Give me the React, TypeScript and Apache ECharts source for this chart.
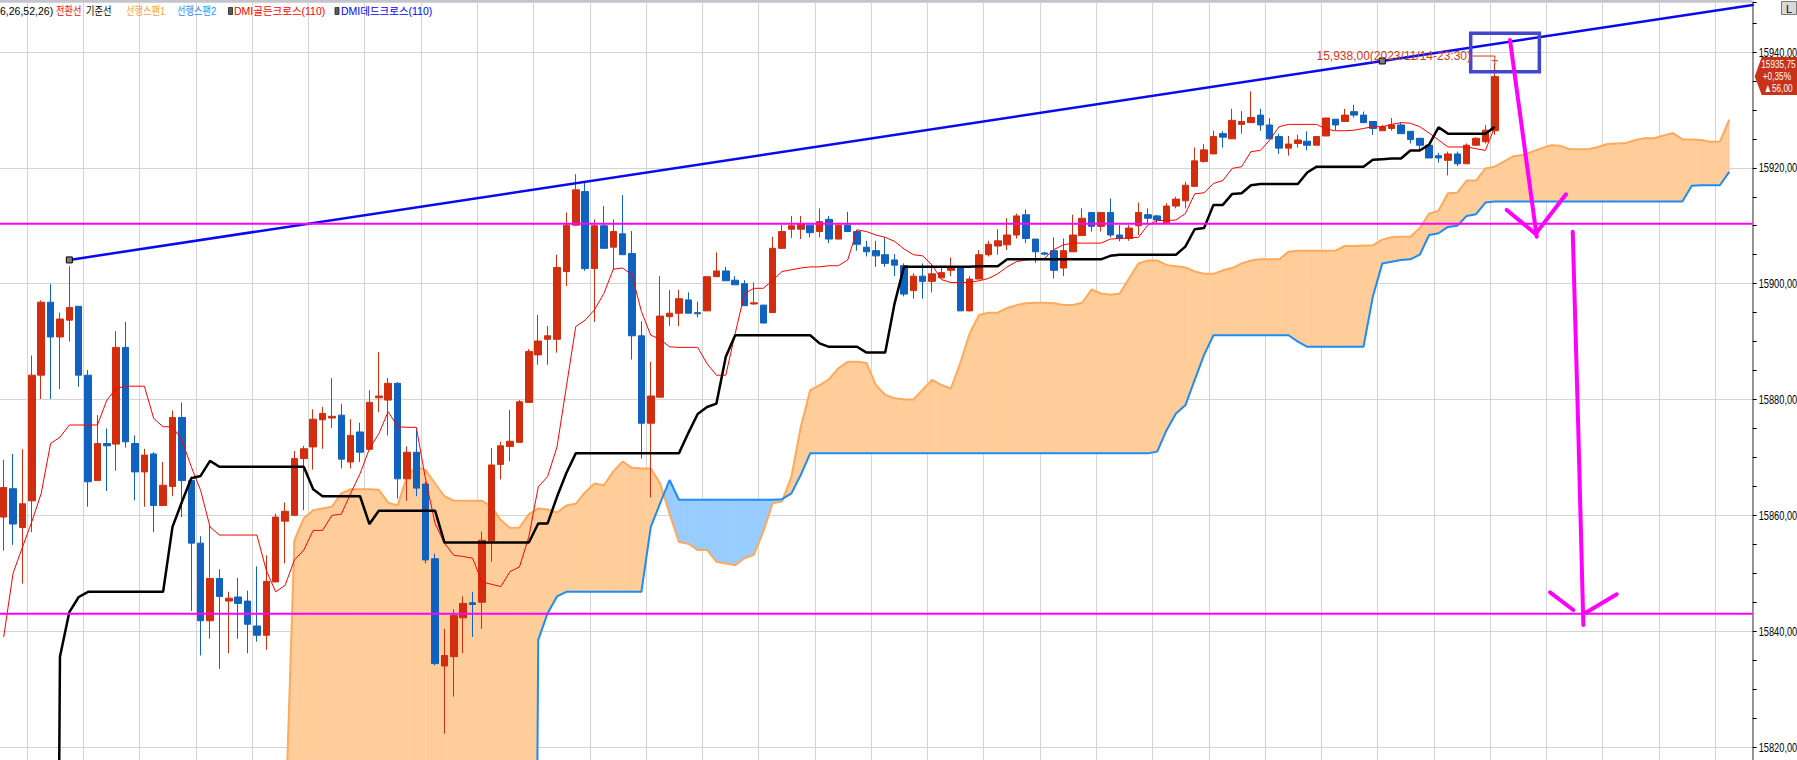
import React, { useEffect, useRef } from 'react';
import * as echarts from 'echarts';

// ---------- data ----------
// candles: [open, close, low, high]
const candles: number[][] = [
  [15859.7, 15864.8, 15853.9, 15869.6], [15864.6, 15858.5, 15854.9, 15870.6], [15857.9, 15862.0, 15848.2, 15871.4],
  [15862.5, 15884.2, 15857.1, 15887.6], [15884.2, 15896.8, 15880.1, 15897.1], [15896.8, 15890.8, 15880.1, 15899.9],
  [15890.8, 15893.9, 15881.8, 15895.0], [15893.7, 15895.9, 15890.0, 15903.0], [15896.1, 15884.2, 15882.2, 15896.1],
  [15884.2, 15865.8, 15861.5, 15885.1], [15866.0, 15872.4, 15866.0, 15877.3], [15872.4, 15872.0, 15864.2, 15875.0],
  [15872.3, 15889.0, 15867.7, 15891.8], [15889.0, 15872.7, 15871.7, 15893.4], [15872.4, 15867.5, 15862.6, 15873.8],
  [15867.5, 15870.4, 15861.5, 15871.5], [15870.6, 15861.7, 15857.1, 15870.9], [15861.7, 15865.2, 15861.7, 15869.2],
  [15865.0, 15876.9, 15863.3, 15878.1], [15876.9, 15866.0, 15859.7, 15879.5], [15866.0, 15855.2, 15843.5, 15866.7],
  [15855.2, 15841.8, 15835.8, 15856.4], [15841.8, 15849.1, 15838.7, 15858.3], [15849.1, 15846.0, 15833.5, 15850.7],
  [15845.2, 15845.7, 15836.2, 15846.8], [15845.9, 15844.8, 15838.7, 15849.2], [15845.2, 15841.2, 15836.2, 15847.0],
  [15840.9, 15839.3, 15838.2, 15851.2], [15839.3, 15848.6, 15836.8, 15853.1], [15848.5, 15859.7, 15848.5, 15860.3],
  [15859.0, 15860.7, 15851.7, 15862.2], [15860.0, 15869.8, 15860.0, 15871.1], [15869.8, 15871.5, 15860.9, 15872.0],
  [15871.8, 15876.6, 15867.9, 15878.3], [15876.5, 15877.6, 15871.5, 15878.7], [15876.8, 15877.1, 15875.1, 15883.7],
  [15877.3, 15869.7, 15868.1, 15879.2], [15869.2, 15873.8, 15868.1, 15876.6], [15874.4, 15870.9, 15869.2, 15876.0],
  [15871.4, 15879.5, 15871.4, 15881.6], [15880.3, 15880.6, 15877.8, 15888.2], [15879.9, 15882.8, 15873.8, 15883.7],
  [15882.8, 15866.3, 15862.9, 15883.0], [15866.3, 15870.9, 15862.5, 15871.9], [15870.9, 15864.7, 15863.3, 15874.8],
  [15865.4, 15852.3, 15851.7, 15865.8], [15852.5, 15834.4, 15834.1, 15853.4], [15834.0, 15835.8, 15822.3, 15840.4],
  [15835.6, 15842.7, 15828.7, 15843.8], [15842.3, 15844.8, 15836.2, 15846.0], [15844.9, 15844.6, 15839.0, 15846.8],
  [15845.0, 15855.7, 15840.4, 15857.2], [15855.6, 15868.7, 15852.0, 15871.6], [15868.8, 15872.0, 15866.2, 15872.7],
  [15871.9, 15872.8, 15869.3, 15878.2], [15872.6, 15879.6, 15872.6, 15879.9], [15879.5, 15888.3, 15879.5, 15888.7],
  [15887.7, 15890.1, 15886.0, 15894.6], [15890.4, 15891.0, 15886.0, 15892.7], [15890.4, 15902.8, 15888.1, 15905.0],
  [15902.1, 15910.1, 15899.6, 15912.3], [15910.1, 15916.2, 15910.1, 15918.9], [15915.9, 15902.6, 15902.2, 15917.4],
  [15902.6, 15910.0, 15893.4, 15911.1], [15910.0, 15906.1, 15906.1, 15913.4], [15906.3, 15909.0, 15902.4, 15911.1],
  [15908.6, 15905.0, 15905.0, 15915.3], [15905.2, 15891.0, 15886.9, 15909.1], [15891.0, 15875.9, 15869.8, 15893.5],
  [15875.9, 15880.6, 15863.1, 15886.5], [15880.4, 15894.4, 15880.4, 15901.3], [15894.3, 15894.9, 15892.7, 15898.9],
  [15894.9, 15897.4, 15892.7, 15898.9], [15897.2, 15894.9, 15894.9, 15898.5], [15895.0, 15894.8, 15894.2, 15896.9],
  [15895.3, 15901.2, 15895.3, 15901.2], [15901.2, 15902.2, 15901.2, 15905.4], [15902.2, 15900.5, 15900.5, 15902.9],
  [15900.6, 15899.8, 15899.8, 15901.3], [15900.0, 15896.2, 15896.2, 15900.6], [15896.5, 15896.7, 15896.3, 15900.2],
  [15896.3, 15893.2, 15893.2, 15896.3], [15895.0, 15906.1, 15895.0, 15908.1], [15906.1, 15909.0, 15906.1, 15910.1],
  [15909.4, 15910.0, 15907.9, 15911.7], [15909.4, 15910.3, 15907.7, 15911.7], [15910.1, 15908.8, 15908.0, 15910.1],
  [15909.0, 15910.7, 15908.0, 15913.0], [15911.1, 15907.7, 15907.0, 15911.7], [15907.7, 15910.1, 15907.7, 15910.1],
  [15910.1, 15909.0, 15909.0, 15912.4], [15909.0, 15906.8, 15905.7, 15909.3], [15906.3, 15905.5, 15904.7, 15907.4],
  [15905.7, 15904.8, 15902.9, 15907.4], [15905.0, 15903.5, 15902.9, 15908.0], [15904.1, 15903.2, 15901.3, 15905.1],
  [15903.1, 15898.2, 15897.8, 15903.5], [15898.8, 15901.3, 15897.4, 15901.8], [15901.3, 15900.4, 15897.4, 15903.5],
  [15900.4, 15901.7, 15898.5, 15903.2], [15901.0, 15901.9, 15901.0, 15902.9], [15902.3, 15902.9, 15901.3, 15904.5],
  [15902.9, 15895.3, 15895.3, 15902.9], [15895.3, 15900.8, 15895.2, 15901.3], [15900.8, 15905.0, 15900.8, 15905.8],
  [15905.0, 15906.8, 15904.7, 15907.4], [15906.5, 15907.4, 15905.0, 15909.4], [15906.7, 15908.4, 15905.8, 15911.3],
  [15908.4, 15911.7, 15907.8, 15912.1], [15911.9, 15907.8, 15907.0, 15912.8], [15907.7, 15905.5, 15903.6, 15907.7],
  [15905.3, 15905.1, 15904.9, 15905.5], [15905.7, 15902.3, 15900.9, 15908.0], [15902.7, 15905.7, 15901.3, 15907.8],
  [15905.5, 15908.4, 15905.5, 15911.9], [15908.3, 15911.3, 15908.3, 15913.0], [15912.3, 15909.9, 15909.0, 15912.3],
  [15909.9, 15912.3, 15909.0, 15912.3], [15912.3, 15908.4, 15908.0, 15914.7], [15908.4, 15907.8, 15907.3, 15910.1],
  [15907.8, 15909.6, 15907.4, 15910.1], [15910.0, 15912.3, 15908.4, 15914.0], [15911.9, 15911.3, 15910.4, 15913.0],
  [15911.7, 15911.0, 15910.4, 15911.9], [15910.5, 15913.4, 15910.5, 15913.9], [15913.4, 15914.6, 15913.0, 15915.0],
  [15914.3, 15917.0, 15913.0, 15917.6], [15916.8, 15921.2, 15916.8, 15923.5], [15921.1, 15923.1, 15920.9, 15924.1],
  [15922.4, 15925.4, 15922.4, 15926.4], [15925.9, 15925.3, 15923.5, 15926.3], [15925.0, 15928.2, 15925.0, 15930.2],
  [15927.5, 15928.0, 15925.9, 15929.8], [15927.8, 15928.7, 15927.8, 15933.2], [15929.1, 15927.4, 15926.4, 15930.2],
  [15927.4, 15925.0, 15925.0, 15928.6], [15925.4, 15923.4, 15922.4, 15925.9], [15923.4, 15924.1, 15922.1, 15925.5],
  [15924.2, 15924.8, 15923.5, 15925.7], [15924.6, 15923.9, 15923.0, 15926.3], [15923.9, 15925.4, 15923.9, 15925.5],
  [15925.5, 15928.6, 15925.5, 15928.6], [15928.4, 15927.4, 15926.5, 15928.4], [15928.0, 15929.1, 15928.0, 15930.2],
  [15929.7, 15929.1, 15928.7, 15930.9], [15929.1, 15927.8, 15927.8, 15929.7], [15928.0, 15926.8, 15925.7, 15928.0],
  [15926.4, 15927.1, 15926.4, 15927.4], [15926.8, 15927.4, 15926.4, 15928.6], [15927.4, 15925.9, 15925.9, 15927.8],
  [15926.3, 15924.9, 15924.2, 15926.3], [15925.1, 15923.9, 15923.1, 15925.1], [15923.9, 15921.7, 15921.7, 15923.9],
  [15922.1, 15921.7, 15920.9, 15922.6], [15921.3, 15922.4, 15918.7, 15922.8], [15922.4, 15920.7, 15920.3, 15922.8],
  [15920.7, 15923.9, 15920.7, 15924.2], [15923.9, 15925.1, 15923.9, 15925.3], [15924.5, 15926.5, 15924.2, 15927.4],
  [15926.4, 15935.75, 15925.7, 15938.0],
];

// 전환선 (conversion line)
const tenkan: number[] = [
  15839.0, 15850.0, 15854.5, 15858.9, 15863.8, 15872.4, 15873.5, 15875.6, 15875.6, 15875.6,
  15875.6, 15879.9, 15881.9, 15882.3, 15882.3, 15882.3, 15876.7, 15875.3, 15875.3, 15873.0,
  15868.4, 15864.3, 15858.0, 15856.6, 15856.6, 15856.6, 15856.6, 15856.6, 15850.5, 15846.8,
  15847.9, 15852.3, 15854.0, 15857.4, 15857.4, 15860.0, 15860.2, 15863.8, 15867.2, 15871.5,
  15874.1, 15877.9, 15875.3, 15875.2, 15875.2, 15866.1, 15858.6, 15855.2, 15853.1, 15852.9,
  15852.6, 15848.5, 15848.1, 15847.7, 15850.3, 15851.1, 15856.3, 15864.9, 15866.7, 15871.8,
  15882.2, 15892.6, 15893.7, 15895.5, 15898.3, 15902.5, 15902.7, 15901.5, 15895.2, 15891.1,
  15890.4, 15889.1, 15889.0, 15889.0, 15889.0, 15886.2, 15884.2, 15884.2, 15891.4, 15898.3,
  15899.2, 15899.2, 15900.6, 15902.1, 15902.4, 15902.7, 15902.9, 15902.9, 15903.1, 15903.1,
  15904.1, 15909.3, 15909.0, 15908.4, 15908.0, 15907.3, 15906.0, 15905.0, 15904.8, 15903.2,
  15900.7, 15900.2, 15900.2, 15900.2, 15900.5, 15900.9, 15901.7, 15902.9, 15903.8, 15904.1,
  15904.2, 15904.4, 15905.9, 15906.7, 15907.0, 15907.0, 15907.0, 15907.0, 15907.7, 15907.8,
  15907.9, 15908.0, 15910.1, 15910.9, 15910.9, 15911.0, 15912.1, 15915.5, 15915.7, 15917.3,
  15917.8, 15919.9, 15920.2, 15922.8, 15923.0, 15924.8, 15927.1, 15927.5, 15927.5, 15927.5,
  15927.5, 15926.7, 15926.4, 15926.4, 15926.5, 15926.8, 15927.1, 15927.1, 15927.5, 15927.8,
  15927.7, 15927.1, 15926.0, 15924.8, 15923.6, 15923.6, 15923.6, 15923.3, 15923.0, 15927.1,
];

// 기준선 (base line)
const kijun: number[] = [
  15600, 15600, 15600, 15600, 15600, 15600, 15835.6, 15843.3, 15845.9, 15846.8,
  15846.8, 15846.8, 15846.8, 15846.8, 15846.8, 15846.8, 15846.8, 15846.8, 15858.0, 15862.3,
  15866.4, 15866.8, 15869.4, 15868.4, 15868.4, 15868.4, 15868.4, 15868.4, 15868.4, 15868.4,
  15868.4, 15868.4, 15868.4, 15864.5, 15863.3, 15863.3, 15863.3, 15863.3, 15863.3, 15858.5,
  15860.8, 15860.8, 15860.8, 15860.8, 15860.8, 15860.8, 15860.8, 15855.3, 15855.3, 15855.3,
  15855.3, 15855.3, 15855.3, 15855.3, 15855.3, 15855.3, 15855.3, 15858.6, 15858.6, 15863.2,
  15867.3, 15870.7, 15870.7, 15870.7, 15870.7, 15870.7, 15870.7, 15870.7, 15870.7, 15870.7,
  15870.7, 15870.7, 15870.7, 15874.2, 15877.5, 15878.7, 15879.3, 15887.4, 15891.1, 15891.1,
  15891.1, 15891.1, 15891.1, 15891.1, 15891.1, 15891.1, 15891.1, 15889.7, 15889.1, 15889.1,
  15889.1, 15889.1, 15888.1, 15888.1, 15888.1, 15896.6, 15902.9, 15902.9, 15902.9, 15902.9,
  15902.9, 15902.9, 15902.9, 15902.9, 15903.0, 15903.0, 15903.0, 15904.2, 15904.2, 15904.2,
  15904.2, 15904.2, 15904.2, 15904.2, 15904.2, 15904.2, 15904.2, 15904.2, 15904.8, 15905.0,
  15905.0, 15905.0, 15905.0, 15905.0, 15905.0, 15905.0, 15906.4, 15909.4, 15909.6, 15913.6,
  15913.6, 15915.5, 15915.6, 15917.0, 15917.2, 15917.2, 15917.2, 15917.2, 15917.2, 15919.2,
  15920.2, 15920.2, 15920.2, 15920.2, 15920.2, 15920.2, 15921.4, 15921.5, 15921.6, 15921.6,
  15923.0, 15923.0, 15924.0, 15927.0, 15925.9, 15925.9, 15925.9, 15925.9, 15925.9, 15927.1,
];

// 선행스팬1 (leading span 1), already shifted forward
const span1: number[] = [
  15600, 15600, 15600, 15600, 15600, 15600, 15600, 15600, 15600, 15600,
  15600, 15600, 15600, 15600, 15600, 15600, 15600, 15600, 15600, 15600,
  15600, 15600, 15600, 15600, 15600, 15600, 15600, 15600, 15600, 15600,
  15805.0, 15855.7, 15859.5, 15860.9, 15861.2, 15861.5, 15863.8, 15864.5, 15864.5, 15864.5,
  15864.4, 15862.2, 15861.7, 15866.7, 15868.4, 15867.8, 15865.5, 15863.3, 15862.5, 15862.5,
  15862.5, 15862.5, 15861.5, 15859.2, 15857.8, 15857.9, 15860.2, 15861.2, 15861.0, 15860.5,
  15861.7, 15862.0, 15864.0, 15865.5, 15865.2, 15867.6, 15869.3, 15868.2, 15868.1, 15868.1,
  15865.5, 15860.3, 15855.4, 15855.1, 15854.0, 15854.0, 15852.0, 15851.7, 15851.4, 15852.6,
  15853.2, 15857.2, 15862.1, 15862.4, 15866.7, 15875.3, 15881.6, 15882.5, 15883.5, 15885.4,
  15886.5, 15886.5, 15886.3, 15882.5, 15880.8, 15880.2, 15880.0, 15880.0, 15881.7, 15883.4,
  15882.5, 15881.9, 15886.3, 15891.4, 15894.6, 15895.0, 15895.0, 15895.8, 15896.3, 15896.6,
  15896.7, 15896.7, 15896.6, 15896.3, 15896.3, 15896.7, 15899.0, 15898.3, 15898.1, 15898.3,
  15900.9, 15903.5, 15904.0, 15904.0, 15903.2, 15903.0, 15902.8, 15902.1, 15901.7, 15901.7,
  15902.3, 15902.7, 15903.5, 15904.0, 15904.2, 15904.2, 15904.2, 15905.5, 15905.7, 15905.7,
  15905.7, 15905.7, 15905.7, 15906.5, 15906.5, 15906.6, 15906.6, 15907.6, 15908.0, 15908.1,
  15908.1, 15909.6, 15912.1, 15912.6, 15915.6, 15915.7, 15917.8, 15917.8, 15919.9, 15920.2,
  15921.1, 15922.0, 15922.2, 15922.8, 15923.4, 15923.9, 15923.8, 15923.2, 15923.2, 15923.2,
  15923.6, 15924.1, 15924.2, 15924.3, 15924.8, 15925.1, 15925.1, 15925.6, 15926.0, 15924.9,
  15924.9, 15924.8, 15924.5, 15924.5, 15928.3,
];

// 선행스팬2 (leading span 2), already shifted forward
const span2: number[] = [
  15600, 15600, 15600, 15600, 15600, 15600, 15600, 15600, 15600, 15600,
  15600, 15600, 15600, 15600, 15600, 15600, 15600, 15600, 15600, 15600,
  15600, 15600, 15600, 15600, 15600, 15600, 15600, 15600, 15600, 15600,
  15600, 15600, 15600, 15600, 15600, 15600, 15600, 15600, 15600, 15600,
  15600, 15600, 15600, 15600, 15600, 15600, 15600, 15600, 15600, 15600,
  15600, 15600, 15600, 15600, 15600, 15600, 15600, 15838.5, 15843.1, 15846.0,
  15846.8, 15846.8, 15846.8, 15846.8, 15846.8, 15846.8, 15846.8, 15846.8, 15846.8, 15858.0,
  15862.1, 15866.1, 15862.7, 15862.7, 15862.7, 15862.7, 15862.7, 15862.7, 15862.7, 15862.7,
  15862.7, 15862.7, 15862.7, 15862.8, 15863.8, 15867.0, 15870.7, 15870.7, 15870.7, 15870.7,
  15870.7, 15870.7, 15870.7, 15870.7, 15870.7, 15870.7, 15870.7, 15870.7, 15870.7, 15870.7,
  15870.7, 15870.7, 15870.7, 15870.7, 15870.7, 15870.7, 15870.7, 15870.7, 15870.7, 15870.7,
  15870.7, 15870.7, 15870.7, 15870.7, 15870.7, 15870.7, 15870.7, 15870.7, 15870.7, 15870.7,
  15870.7, 15870.7, 15870.7, 15871.0, 15874.7, 15877.6, 15879.0, 15883.4, 15887.7, 15891.1,
  15891.1, 15891.1, 15891.1, 15891.1, 15891.1, 15891.1, 15891.1, 15891.1, 15890.0, 15889.1,
  15889.1, 15889.1, 15889.1, 15889.1, 15889.1, 15889.1, 15897.8, 15903.5, 15903.8, 15904.1,
  15904.2, 15905.0, 15908.4, 15908.7, 15909.8, 15910.0, 15911.7, 15912.0, 15914.0, 15914.2,
  15914.2, 15914.2, 15914.2, 15914.2, 15914.2, 15914.2, 15914.2, 15914.2, 15914.2, 15914.2,
  15914.2, 15914.2, 15914.2, 15914.2, 15914.2, 15914.2, 15914.2, 15914.2, 15914.2, 15914.2,
  15916.9, 15917.0, 15917.0, 15917.0, 15919.3,
];

const CATEGORY_COUNT = 187;
const categories = Array.from({ length: CATEGORY_COUNT }, (_, i) => String(i));

// axis range, tick step and tick labels
const Y_MIN = 15817.76;
const Y_MAX = 15948.63;
const Y_STEP = 20;
const yTickLabels = [15820, 15840, 15860, 15880, 15900, 15920, 15940];

// drawn annotations (x in bar index units, y in price)
const trendline = [[7, 15904.1], [147, 15938.45], [186.5, 15948.1]];
const resistanceLevel = 15910.35;
const supportLevel = 15843.0;
const arrow1Shaft = [[160.62, 15942.07], [163.47, 15908.11]];
const arrow1Head = [[160.27, 15912.72], [163.35, 15908.6], [166.59, 15915.43]];
const arrow2Shaft = [[167.31, 15908.97], [167.9, 15875.0], [168.44, 15841.07]];
const arrow2HeadL = [[164.89, 15846.71], [167.37, 15843.66]];
const arrow2HeadR = [[172.0, 15846.37], [168.6, 15843.09]];
const highlightBox = [[156.43, 15943.23], [163.75, 15943.23], [163.75, 15936.6], [156.43, 15936.6], [156.43, 15943.23]];
const highMarker = [[156.68, 15939.3], [159, 15939.3], [159, 15937.9]];
const highLabel = '15,938,00(2023/11/14-23:30)';
const lastPrice = 15935.75;
const priceTagTexts = ['15935,75', '+0,35%', '▲56,00'];

const legendItems = [
  { text: '6,26,52,26)', x: 0, color: '#000000', korean: false },
  { text: '전환선', x: 56, color: '#FF0000', korean: true },
  { text: '기준선', x: 86, color: '#000000', korean: true },
  { text: '선행스팬1', x: 126, color: '#FFA040', korean: true },
  { text: '선행스팬2', x: 177, color: '#1E90FF', korean: true },
  { text: 'DMI골든크로스(110)', x: 234, color: '#FF0000', korean: false },
  { text: 'DMI데드크로스(110)', x: 341, color: '#0000FF', korean: false },
];
const legendIcons = [228.5, 335];

// colors and fonts
const UP = '#D22D0E';
const DOWN = '#1062BE';
const CLOUD_UP = '#FECD99';
const CLOUD_DOWN = '#99CCFF';
const MAGENTA = '#FF00FF';
const LATIN = "'Liberation Sans', Arial, sans-serif";
const KOREAN = "'Liberation Sans', 'Noto Sans CJK KR', sans-serif";

function lineSeries(data: any[], color: string, width: number, z: number, extra: any = {}) {
  return {
    type: 'line',
    xAxisIndex: 1,
    yAxisIndex: 0,
    data,
    showSymbol: false,
    symbol: 'none',
    silent: true,
    z,
    lineStyle: { color, width, cap: 'round', join: 'round' },
    ...extra,
  };
}

export default function App() {
  const ref = useRef<HTMLDivElement>(null);

  useEffect(() => {
    if (!ref.current) return;
    const chart = echarts.init(ref.current, undefined, { renderer: 'svg' });

    const cloudData = span1.slice(0, span1.length - 1).map((v, i) => [i, v]);

    const option: any = {
      animation: false,
      backgroundColor: '#FFFFFF',
      grid: { left: -1, right: 44.3, top: 2, bottom: 0, containLabel: false, outerBoundsMode: 'none' },
      xAxis: [
        {
          type: 'category',
          data: categories,
          boundaryGap: true,
          axisLine: { show: false, onZero: false },
          axisTick: { show: false },
          axisLabel: { show: false },
          splitLine: {
            show: true,
            interval: (idx: number) => idx % 6 === 3,
            lineStyle: { color: '#D4D4D4', width: 1 },
          },
        },
        { type: 'value', min: -0.5, max: CATEGORY_COUNT - 0.5, show: false, axisLine: { onZero: false } },
      ],
      yAxis: {
        type: 'value',
        position: 'right',
        min: Y_MIN,
        max: Y_MAX,
        minInterval: Y_STEP,
        maxInterval: Y_STEP,
        scale: true,
        axisLine: { show: true, onZero: false, lineStyle: { color: '#7A7A7A', width: 1.5 } },
        axisTick: { show: true, length: 4, lineStyle: { color: '#000' } },
        minorTick: { show: true, splitNumber: 4, length: 4, lineStyle: { color: '#000' } },
        splitLine: { show: true, lineStyle: { color: '#D4D4D4', width: 1 } },
        axisLabel: { show: false },
      },
      series: [
        {
          type: 'custom',
          name: 'cloud',
          xAxisIndex: 0,
          yAxisIndex: 0,
          clip: true,
          silent: true,
          z: 1,
          data: cloudData,
          encode: { x: 0, y: 1 },
          renderItem: (params: any, api: any) => {
            const i = api.value(0) as number;
            const a1 = span1[i], a2 = span2[i], b1 = span1[i + 1], b2 = span2[i + 1];
            const A1 = api.coord([i, a1]);
            const A2 = api.coord([i, a2]);
            const B1 = api.coord([i + 1, b1]);
            const B2 = api.coord([i + 1, b2]);
            const da = a1 - a2;
            const db = b1 - b2;
            const poly = (pts: number[][], fill: string) => ({
              type: 'polygon',
              shape: { points: pts },
              style: { fill, stroke: fill, lineWidth: 0.8 },
            });
            const children: any[] = [];
            if (da * db >= 0) {
              const d = da !== 0 ? da : db;
              children.push(poly([A1, B1, B2, A2], d >= 0 ? CLOUD_UP : CLOUD_DOWN));
            } else {
              const t = da / (da - db);
              const X = [A1[0] + (B1[0] - A1[0]) * t, A1[1] + (B1[1] - A1[1]) * t];
              children.push(poly([A1, X, A2], da >= 0 ? CLOUD_UP : CLOUD_DOWN));
              children.push(poly([X, B1, B2], db >= 0 ? CLOUD_UP : CLOUD_DOWN));
            }
            return { type: 'group', children };
          },
        },
        {
          type: 'line', name: '선행스팬1', xAxisIndex: 0, yAxisIndex: 0, data: span1,
          showSymbol: false, symbol: 'none', silent: true, z: 2,
          lineStyle: { color: '#FDAA5C', width: 2 },
        },
        {
          type: 'line', name: '선행스팬2', xAxisIndex: 0, yAxisIndex: 0, data: span2,
          showSymbol: false, symbol: 'none', silent: true, z: 2,
          lineStyle: { color: '#1C8CF8', width: 2 },
        },
        {
          type: 'candlestick', name: 'price', xAxisIndex: 0, yAxisIndex: 0, data: candles,
          barWidth: 7, silent: true, z: 3,
          itemStyle: { color: UP, color0: DOWN, borderColor: UP, borderColor0: DOWN, borderWidth: 1 },
        },
        {
          type: 'line', name: '전환선', xAxisIndex: 0, yAxisIndex: 0, data: tenkan,
          showSymbol: false, symbol: 'none', silent: true, z: 4,
          lineStyle: { color: '#FF0000', width: 1 },
        },
        {
          type: 'line', name: '기준선', xAxisIndex: 0, yAxisIndex: 0, data: kijun,
          showSymbol: false, symbol: 'none', silent: true, z: 4,
          lineStyle: { color: '#000000', width: 2.5 },
        },
        lineSeries(
          trendline.map((p, k) => ({
            value: p,
            symbol: k < 2 ? 'rect' : 'none',
            symbolSize: 6,
          })),
          '#0A0AF0', 2.5, 5,
          { showSymbol: true, itemStyle: { color: '#808080', borderColor: '#000', borderWidth: 1 } },
        ),
        lineSeries([[-0.5, resistanceLevel], [CATEGORY_COUNT - 0.5, resistanceLevel]], MAGENTA, 2, 6, { lineStyle: { color: MAGENTA, width: 2 } }),
        lineSeries([[-0.5, supportLevel], [CATEGORY_COUNT - 0.5, supportLevel]], MAGENTA, 2, 6, { lineStyle: { color: MAGENTA, width: 2 } }),
        lineSeries(highlightBox, '#4347C9', 3.5, 6, { lineStyle: { color: '#4347C9', width: 3.5, join: 'miter', cap: 'square' } }),
        lineSeries(highMarker, '#D03A1A', 1, 6),
        lineSeries([[158.7, 15938.5], [159.3, 15938.5]], '#D03A1A', 1, 6),
        lineSeries(arrow1Shaft, MAGENTA, 4, 7),
        lineSeries(arrow1Head, MAGENTA, 4, 7),
        lineSeries(arrow2Shaft, MAGENTA, 4, 7),
        lineSeries(arrow2HeadL, MAGENTA, 4, 7),
        lineSeries(arrow2HeadR, MAGENTA, 4, 7),
      ],
    };

    chart.setOption(option);

    const py = chart.convertToPixel({ yAxisIndex: 0 }, lastPrice) as number;
    const axisX = chart.convertToPixel({ xAxisIndex: 1 }, CATEGORY_COUNT - 0.5) as number;
    const highPt = chart.convertToPixel({ xAxisIndex: 1, yAxisIndex: 0 }, highMarker[0]) as number[];

    const graphic: any[] = [
      {
        type: 'line', z: 50,
        shape: { x1: 0, y1: 1, x2: axisX, y2: 1 },
        style: { stroke: '#C4C4CE', lineWidth: 2 },
      },
      // y-axis tick labels (condensed like the reference's narrow font)
      ...yTickLabels.map((v) => ({
        type: 'text', z: 40,
        x: axisX + 6,
        y: chart.convertToPixel({ yAxisIndex: 0 }, v) as number,
        scaleX: 0.74,
        style: {
          text: v.toFixed(2).replace('.', ','), fill: '#000',
          font: '12.5px ' + LATIN, verticalAlign: 'middle', align: 'left',
        },
      })),
      // high-price annotation text
      {
        type: 'text', z: 45,
        x: highPt[0] - 2, y: highPt[1],
        style: {
          text: highLabel, fill: '#D03A1A', font: '12px ' + LATIN,
          verticalAlign: 'middle', align: 'right',
        },
      },
      ...legendItems.map((it) => ({
        type: 'text', z: 50,
        x: it.x, y: 11,
        scaleX: it.korean ? 0.84 : 1,
        style: {
          text: it.text, fill: it.color,
          font: (it.korean ? '11px ' : '10.5px ') + KOREAN,
          verticalAlign: 'middle', align: 'left',
        },
      })),
      ...legendIcons.map((x) => ({
        type: 'rect', z: 50,
        shape: { x, y: 7.5, width: 4, height: 7 },
        style: { fill: '#5A5A5A', stroke: '#222', lineWidth: 0.8 },
      })),
      {
        type: 'polygon', z: 60,
        shape: { points: [[axisX + 2, py], [axisX + 9, py - 19.5], [1800, py - 19.5], [1800, py + 18.5], [axisX + 9, py + 18.5]] },
        style: { fill: '#C8321A' },
      },
      {
        type: 'text', z: 61, x: axisX + 8.5, y: py - 13, scaleX: 0.72,
        style: { text: priceTagTexts[0], fill: '#FFFFFF', font: '11.5px ' + LATIN, verticalAlign: 'middle' },
      },
      {
        type: 'text', z: 61, x: axisX + 10, y: py - 1, scaleX: 0.72,
        style: { text: priceTagTexts[1], fill: '#FFFFFF', font: '11.5px ' + LATIN, verticalAlign: 'middle' },
      },
      {
        type: 'text', z: 61, x: axisX + 11, y: py + 11, scaleX: 0.72,
        style: { text: priceTagTexts[2], fill: '#FFFFFF', font: '11.5px ' + KOREAN, verticalAlign: 'middle' },
      },
      {
        type: 'rect', z: 61,
        shape: { x: 1781.5, y: 1.5, width: 15, height: 13 },
        style: { fill: '#D8D8D8', stroke: '#7A7A7A', lineWidth: 1 },
      },
      {
        type: 'text', z: 62, x: 1789, y: 8.5,
        style: { text: 'L', fill: '#000', font: '11px ' + LATIN, align: 'center', verticalAlign: 'middle' },
      },
    ];
    chart.setOption({ graphic });

    return () => chart.dispose();
  }, []);

  return (
    <div
      ref={ref}
      style={{ position: 'absolute', left: 0, top: 0, width: 1797, height: 760, background: '#fff' }}
    />
  );
}
